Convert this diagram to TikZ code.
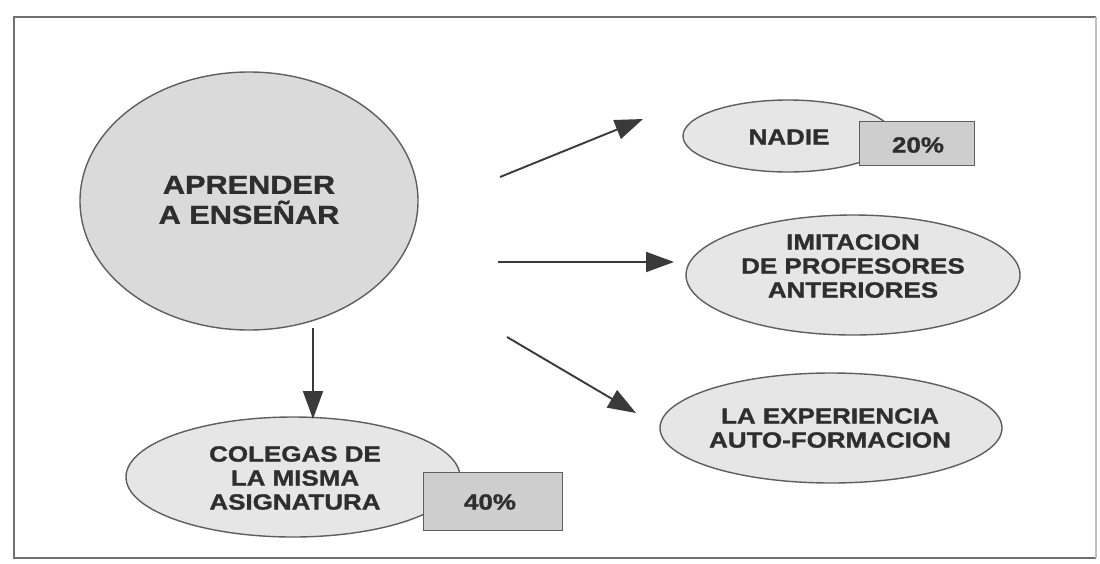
\documentclass[tikz,border=0pt]{standalone}
\usepackage{fontspec}
\setmainfont{Liberation Sans}[FakeStretch=1.18, BoldFeatures={FakeBold=1.3}]
\usetikzlibrary{shapes.geometric,arrows.meta}
\definecolor{lineg}{HTML}{5E5E5E}
\definecolor{txtg}{HTML}{2E2E2E}
\definecolor{ellg}{HTML}{E6E6E6}
\definecolor{mainell}{HTML}{DADADA}
\definecolor{boxg}{HTML}{CECECE}
\definecolor{arrg}{HTML}{3A3A3A}
\definecolor{frameg}{HTML}{707070}
\tikzset{
  oval/.style={ellipse, draw=lineg, line width=1.4pt, fill=ellg, inner sep=0pt},
  pctbox/.style={rectangle, draw=lineg, line width=1.4pt, fill=boxg, inner sep=0pt, anchor=north west},
  txt/.style={text=txtg, align=center, inner sep=0pt, font=\bfseries\fontsize{22}{24}\selectfont},
  bigtxt/.style={text=txtg, align=center, inner sep=0pt, font=\bfseries\fontsize{26}{30}\selectfont},
  arr/.style={draw=arrg, line width=1.9pt, -{Triangle[length=28pt,width=20pt]}}
}
\begin{document}
\begin{tikzpicture}[x=1pt,y=-1pt]
\useasboundingbox (0,0) rectangle (1100,563);
\fill[white] (0,0) rectangle (1100,563);
% frame
\draw[frameg, line width=2pt] (1096,17) -- (14,17) -- (14,558) -- (1096,558);
\draw[frameg!45, line width=1.5pt] (1096,17) -- (1096,558);

% main
\node[oval, fill=mainell, minimum width=338pt, minimum height=258pt] (main) at (249,201) {};
\node[bigtxt] (mainT) at (249,200) {APRENDER\\A ENSEÑAR};

% nadie
\node[oval, minimum width=210pt, minimum height=72pt] (nadie) at (788,136) {};
\node[txt] (nadieT) at (789,137) {NADIE};
\node[pctbox, minimum width=115pt, minimum height=44pt] (p20) at (859,121) {};
\node[txt] (p20T) at (918,145) {20\%};

% imitacion
\node[oval, minimum width=334pt, minimum height=120pt] (imit) at (853,275) {};
\node[txt] (imitT) at (853,266) {IMITACION\\DE PROFESORES\\ANTERIORES};

% experiencia
\node[oval, minimum width=342pt, minimum height=110pt] (exper) at (831,428) {};
\node[txt] (experT) at (830,428) {LA EXPERIENCIA\\AUTO-FORMACION};

% colegas
\node[oval, minimum width=334pt, minimum height=120pt] (coleg) at (293,477) {};
\node[txt] (colegT) at (295,478) {COLEGAS DE\\LA MISMA\\ASIGNATURA};
\node[pctbox, minimum width=139pt, minimum height=58pt] (p40) at (423,472) {};
\node[txt] (p40T) at (490,502) {40\%};

% arrow ends
\coordinate (s1) at (500,177);
\coordinate (e1) at (643,119);
\coordinate (s2) at (498,262);
\coordinate (e2) at (674,262);
\coordinate (s3) at (507,337);
\coordinate (e3) at (636,413);
\coordinate (s4) at (313,328);
\coordinate (e4) at (313,419);

\draw[arr] (s1) -- (e1);
\draw[arr] (s2) -- (e2);
\draw[arr] (s3) -- (e3);
\draw[arr] (s4) -- (e4);
\end{tikzpicture}
\end{document}
